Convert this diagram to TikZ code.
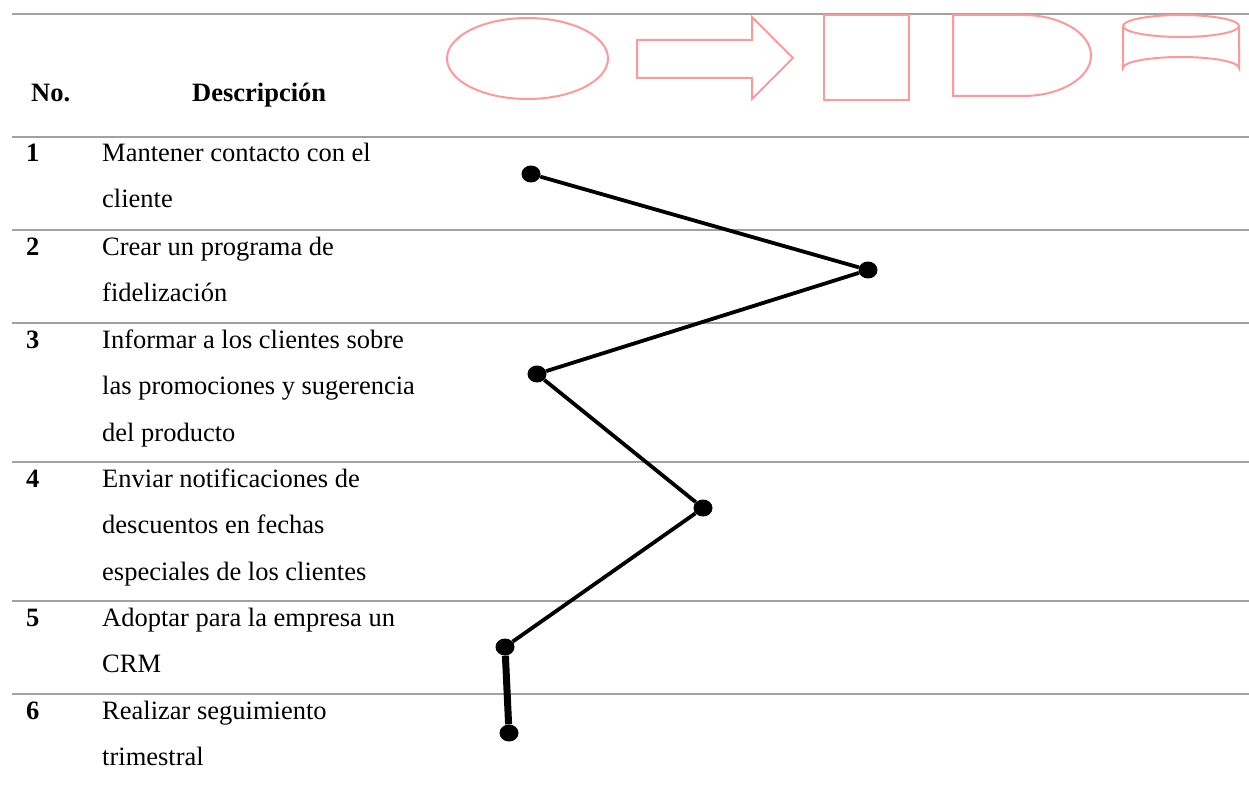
\documentclass[tikz,border=0pt]{standalone}
\usepackage{fontspec}
\setmainfont{Liberation Serif}
\usetikzlibrary{shapes.geometric}
\begin{document}
\begin{tikzpicture}[x=1pt,y=-1pt,
  rule/.style={draw=black!37, line width=1.3pt},
  shp/.style={draw=red!40, line width=2pt},
  dot/.style={ellipse, fill=black, inner sep=0pt, minimum width=19pt, minimum height=17pt},
  conn/.style={draw=black, line width=3.8pt},
  txt/.style={anchor=base west, inner sep=0pt, font=\fontsize{26.5}{30}\selectfont},
  num/.style={anchor=base west, inner sep=0pt, font=\fontsize{26.5}{30}\selectfont\bfseries}]
\useasboundingbox (0,0) rectangle (1249,802);
% rules
\foreach \yy in {14,137,230,323,462,601,694} \draw[rule] (12,\yy) -- (1249,\yy);
% header icons
\draw[shp] (527.5,58.5) ellipse [x radius=80.5, y radius=40.5];
\draw[shp] (637,40) -- (752,40) -- (752,17) -- (793,58) -- (752,99) -- (752,78) -- (637,78) -- cycle;
\draw[shp] (824,15) rectangle (909,100);
\draw[shp] (953,15) -- (1023,15) arc[start angle=-90, end angle=90, x radius=68, y radius=40.5] -- (953,96) -- cycle;
\draw[shp] (1123,26) -- (1123,68) arc[start angle=180, end angle=360, x radius=58, y radius=11] -- (1239,26);
\draw[shp] (1181,26) ellipse [x radius=58, y radius=11];
% header text
\node[num] (hno) at (31,102) {No.};
\node[num] (hdesc) at (192,102) {Descripción};
% rows
\node[num] (n1) at (26,162) {1};
\node[txt] (t1a) at (102,162) {Mantener contacto con el};
\node[txt] (t1b) at (102,208) {cliente};
\node[num] (n2) at (26,255) {2};
\node[txt] (t2a) at (102,255) {Crear un programa de};
\node[txt] (t2b) at (102,301) {fidelización};
\node[num] (n3) at (26,348) {3};
\node[txt] (t3a) at (102,348) {Informar a los clientes sobre};
\node[txt] (t3b) at (102,394) {las promociones y sugerencia};
\node[txt] (t3c) at (102,441) {del producto};
\node[num] (n4) at (26,487) {4};
\node[txt] (t4a) at (102,487) {Enviar notificaciones de};
\node[txt] (t4b) at (102,533) {descuentos en fechas};
\node[txt] (t4c) at (102,580) {especiales de los clientes};
\node[num] (n5) at (26,626) {5};
\node[txt] (t5a) at (102,626) {Adoptar para la empresa un};
\node[txt] (t5b) at (102,672) {CRM};
\node[num] (n6) at (26,719) {6};
\node[txt] (t6a) at (102,719) {Realizar seguimiento};
\node[txt] (t6b) at (102,765) {trimestral};
% flow
\node[dot] (d1) at (531,174) {};
\node[dot] (d2) at (868,270) {};
\node[dot] (d3) at (537,374) {};
\node[dot] (d4) at (703,508) {};
\node[dot] (d5) at (505,647) {};
\node[dot] (d6) at (509,733) {};
\draw[conn] (d1) -- (d2);
\draw[conn] (d2) -- (d3);
\draw[conn] (d3) -- (d4);
\draw[conn] (d4) -- (d5);
\draw[conn, line width=7pt] (d5) -- (d6);
\end{tikzpicture}
\end{document}
